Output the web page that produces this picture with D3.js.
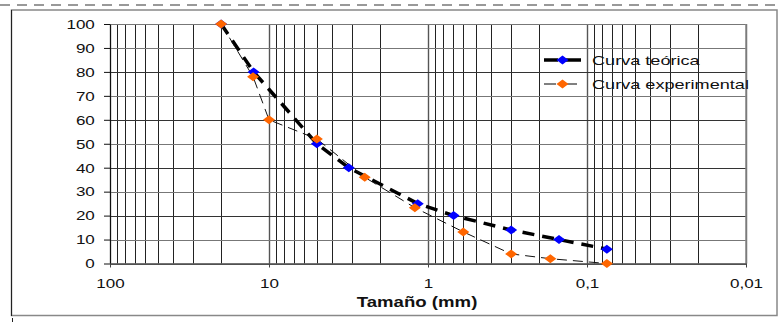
<!DOCTYPE html>
<html>
<head>
<meta charset="utf-8">
<script src="https://cdn.jsdelivr.net/npm/d3@7"></script>
<style>
  body { margin: 0; background: #fff; }
  svg { display: block; font-family: "Liberation Sans", Arial, sans-serif; }
</style>
</head>
<body>
<div id="chart"></div>
<script>
// Tamaño (mm) vs % que pasa
const teoricaSize = [20, 12.5, 5, 3.15, 1.16, 0.69, 0.3, 0.15, 0.075];
const teoricaPct = [100, 80, 50, 40, 25, 20, 14, 10, 6];
const expSize = [20, 12.6, 10, 5, 2.5, 1.21, 0.6, 0.3, 0.17, 0.075];
const expPct = [100, 78, 60, 52, 36, 23.3, 13.2, 4, 2, 0];
const xTickValues = [100, 10, 1, 0.1, 0.01];
const xTickLabels = ['100', '10', '1', '0,1', '0,01'];
const yTickValues = [0, 10, 20, 30, 40, 50, 60, 70, 80, 90, 100];
const seriesNames = ['Curva teórica', 'Curva experimental'];

const W = 782, H = 322;
const svg = d3.select('#chart').append('svg')
  .attr('width', W).attr('height', H);

// page frame
svg.append('line')
  .attr('x1', 0).attr('x2', W).attr('y1', 5).attr('y2', 5)
  .attr('stroke', '#999').attr('stroke-width', 2).attr('stroke-dasharray', '10,7');
svg.append('rect')
  .attr('x', 11.5).attr('y', 10).attr('width', 765.5).attr('height', 305.5)
  .attr('fill', 'none').attr('stroke', '#888').attr('stroke-width', 1.5);
svg.append('line')
  .attr('x1', 11.5).attr('x2', 11.5).attr('y1', 10).attr('y2', 316)
  .attr('stroke', '#222').attr('stroke-width', 1);
svg.append('line')
  .attr('x1', 12.5).attr('x2', 12.5).attr('y1', 318).attr('y2', 322)
  .attr('stroke', '#222').attr('stroke-width', 1);

const x = d3.scaleLog().domain([100, 0.01]).range([110, 746]);
const y = d3.scaleLinear().domain([0, 100]).range([263.5, 24]);

const plotG = svg.append('g');

// Grid
const gridG = plotG.append('g');
for (const v of x.ticks()) {
  gridG.append('line')
    .attr('x1', Math.round(x(v)) + 0.5).attr('x2', Math.round(x(v)) + 0.5)
    .attr('y1', y(100)).attr('y2', y(0))
    .attr('stroke', xTickValues.includes(v) ? '#555' : '#222')
    .attr('stroke-width', xTickValues.includes(v) ? 1.4 : 1);
}
for (const v of yTickValues) {
  gridG.append('line')
    .attr('x1', x(100)).attr('x2', x(0.01))
    .attr('y1', Math.round(y(v)) + 0.5).attr('y2', Math.round(y(v)) + 0.5)
    .attr('stroke', v % 20 === 0 && v !== 0 && v !== 100 ? '#333' : '#777')
    .attr('stroke-width', 1.2);
}
gridG.append('line')
  .attr('x1', x(0.01)).attr('x2', x(0.01)).attr('y1', y(100)).attr('y2', y(0))
  .attr('stroke', '#888').attr('stroke-width', 1.5);

// Axes
const yAxis = plotG.append('g')
  .attr('transform', `translate(${x(100)},0)`)
  .call(d3.axisLeft(y).tickValues(yTickValues).tickSize(6).tickSizeOuter(0));
yAxis.select('.domain').attr('stroke', '#111');
yAxis.selectAll('.tick line').attr('stroke', '#111');
yAxis.selectAll('.tick text')
  .attr('x', -10.7).attr('dy', '0.36em')
  .attr('transform', 'scale(1.42,1)')
  .style('font-size', '12px').attr('fill', '#111');

const xAxis = plotG.append('g')
  .attr('transform', `translate(0,${y(0)})`)
  .call(d3.axisBottom(x).tickValues(xTickValues).tickSize(4).tickSizeOuter(0)
    .tickFormat((d, i) => xTickLabels[i]));
xAxis.select('.domain').attr('stroke', '#444').attr('stroke-width', 1.4);
xAxis.selectAll('.tick line').attr('stroke', '#444');
xAxis.selectAll('.tick text')
  .attr('y', 24.5).attr('dy', 0)
  .attr('transform', 'scale(1.42,1)')
  .style('font-size', '12px').attr('fill', '#111');

svg.append('text')
  .attr('transform', 'translate(417,307) scale(1.33,1)')
  .attr('text-anchor', 'middle')
  .style('font-size', '14px').style('font-weight', 'bold')
  .attr('fill', '#111')
  .text('Tamaño (mm)');

// Series
const line = d3.line().x(d => x(d[0])).y(d => y(d[1]));
const teorica = teoricaSize.map((s, i) => [s, teoricaPct[i]]);
const experimental = expSize.map((s, i) => [s, expPct[i]]);

const diamond = (g, cx, cy, color) => g.append('path')
  .attr('d', `M${cx - 6},${cy}L${cx},${cy - 4.5}L${cx + 6},${cy}L${cx},${cy + 4.5}Z`)
  .attr('fill', color);

const seriesG = plotG.append('g');
seriesG.append('path').attr('d', line(teorica))
  .attr('fill', 'none').attr('stroke', '#000').attr('stroke-width', 3.5)
  .attr('stroke-dasharray', '12,8');
seriesG.append('path').attr('d', line(experimental))
  .attr('fill', 'none').attr('stroke', '#111').attr('stroke-width', 1)
  .attr('stroke-dasharray', '10,6');

for (const d of teorica) diamond(seriesG, x(d[0]), y(d[1]), '#0000ff');
for (const d of experimental) diamond(seriesG, x(d[0]), y(d[1]), '#ff6600');

// Legend
const legendG = svg.append('g');
const legendRows = [
  { name: seriesNames[0], color: '#0000ff', width: 3.5, y: 60 },
  { name: seriesNames[1], color: '#ff6600', width: 1, y: 84 }
];
for (const r of legendRows) {
  legendG.append('line')
    .attr('x1', 544).attr('x2', 581).attr('y1', r.y).attr('y2', r.y)
    .attr('stroke', '#000').attr('stroke-width', r.width)
    .attr('stroke-dasharray', r.width > 2 ? '14,7,16' : '12,7,14');
  diamond(legendG, 562.5, r.y, r.color);
  legendG.append('text')
    .attr('transform', `translate(592,${r.y + 4.5}) scale(1.45,1)`)
    .style('font-size', '12.5px').attr('fill', '#111')
    .text(r.name);
}
</script>
</body>
</html>
